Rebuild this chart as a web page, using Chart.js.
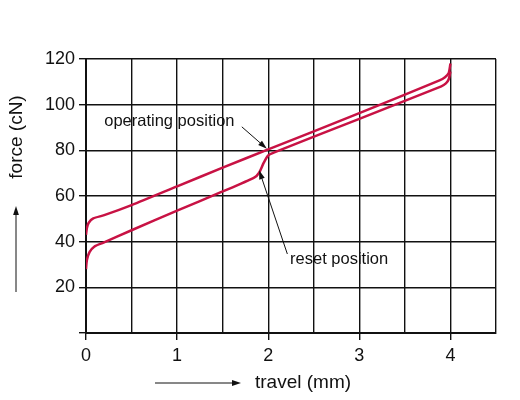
<!DOCTYPE html>
<html>
<head>
<meta charset="utf-8">
<script src="https://cdn.jsdelivr.net/npm/chart.js@4.4.1/dist/chart.umd.min.js"></script>
<style>
  html, body { margin: 0; padding: 0; background: #fff; }
</style>
</head>
<body>
<canvas id="force-chart" width="520" height="400"></canvas>
<script>
// travel (mm) / force (cN)
const operatingTravel = [0, 0.01, 0.03, 0.08, 0.2, 0.5, 1, 1.5, 2, 3, 3.88, 3.94, 3.98, 4];
const operatingForce  = [43, 46, 48.3, 50.2, 51.6, 56, 64.2, 72.4, 80.4, 96.3, 110.6, 112, 113.8, 118];
const resetTravel = [0, 0.01, 0.04, 0.09, 0.18, 0.5, 1, 1.5, 1.85, 1.9, 1.95, 2, 2.06, 3, 3.9, 3.95, 3.98, 4];
const resetForce  = [28, 32, 35.5, 37.8, 39.4, 45, 53.6, 62, 68.2, 70.2, 74.5, 77.8, 79, 93.8, 108, 109.3, 111, 114.5];
const xTickLabels = [0, 1, 2, 3, 4];
const yTickLabels = [20, 40, 60, 80, 100, 120];

const FONT = 'Liberation Sans, Arial, sans-serif';
const INK = '#111';
const CURVE = 'rgb(200, 18, 68)';

function toPoints(xs, ys) {
    return xs.map((x, i) => ({ x: x, y: ys[i] }));
}

// draws a line with a filled head at (x2, y2)
function arrow(ctx, x1, y1, x2, y2, head) {
    const a = Math.atan2(y2 - y1, x2 - x1);
    const w = head * 0.32;
    ctx.beginPath();
    ctx.moveTo(x1, y1);
    ctx.lineTo(x2 - Math.cos(a) * head * 0.6, y2 - Math.sin(a) * head * 0.6);
    ctx.stroke();
    ctx.beginPath();
    ctx.moveTo(x2, y2);
    ctx.lineTo(x2 - head * Math.cos(a) + w * Math.sin(a), y2 - head * Math.sin(a) - w * Math.cos(a));
    ctx.lineTo(x2 - head * Math.cos(a) - w * Math.sin(a), y2 - head * Math.sin(a) + w * Math.cos(a));
    ctx.closePath();
    ctx.fill();
}

// axis titles with their arrows, and the two callouts
const labelsPlugin = {
    id: 'labels',
    afterDatasetsDraw(chart) {
        const ctx = chart.ctx;
        const xs = chart.scales.x, ys = chart.scales.y;
        const px = v => xs.getPixelForValue(v);
        const py = v => ys.getPixelForValue(v);
        ctx.save();
        ctx.fillStyle = INK;
        ctx.strokeStyle = INK;
        ctx.lineWidth = 1;

        // callouts
        ctx.font = '16.5px ' + FONT;
        ctx.textBaseline = 'middle';
        ctx.textAlign = 'left';
        ctx.fillText('operating position', px(0.2), py(92.8));
        arrow(ctx, px(1.71), py(90.3), px(1.985), py(80.7), 9);
        ctx.fillText('reset position', px(2.24), py(32.3));
        arrow(ctx, px(2.21), py(34.6), px(1.9), py(71.3), 9);

        // x title
        ctx.font = '19px ' + FONT;
        ctx.fillText('travel (mm)', 255, 383);
        arrow(ctx, 155, 383, 241, 383, 9);

        // y title
        ctx.save();
        ctx.translate(17, 137);
        ctx.rotate(-Math.PI / 2);
        ctx.textAlign = 'center';
        ctx.fillText('force (cN)', 0, 0);
        ctx.restore();
        arrow(ctx, 16, 292, 16, 206, 9);

        ctx.restore();
    }
};

const ctx = document.getElementById('force-chart').getContext('2d');
new Chart(ctx, {
    type: 'line',
    data: {
        datasets: [{
            label: 'operating',
            data: toPoints(operatingTravel, operatingForce),
            borderColor: CURVE,
            borderWidth: 2.5,
            pointRadius: 0,
            tension: 0.25,
            fill: false
        }, {
            label: 'reset',
            data: toPoints(resetTravel, resetForce),
            borderColor: CURVE,
            borderWidth: 2.5,
            pointRadius: 0,
            tension: 0.25,
            fill: false
        }]
    },
    options: {
        responsive: false,
        animation: false,
        layout: { padding: { top: 59, right: 24, left: 0, bottom: 0 } },
        plugins: {
            legend: { display: false },
            tooltip: { enabled: false }
        },
        scales: {
            x: {
                type: 'linear',
                min: 0,
                max: 4.5,
                ticks: {
                    stepSize: 0.5,
                    autoSkip: false,
                    maxRotation: 0,
                    color: INK,
                    padding: 5,
                    font: { family: FONT, size: 18 },
                    callback: v => xTickLabels.includes(v) ? String(v) : ''
                },
                grid: {
                    color: INK,
                    lineWidth: 1.4,
                    tickLength: 7,
                    tickColor: c => (c.tick && xTickLabels.includes(c.tick.value)) ? INK : 'rgba(0,0,0,0)'
                },
                border: { color: INK, width: 2 },
                afterFit: s => { s.height = 67; }
            },
            y: {
                min: 0,
                max: 120,
                ticks: {
                    stepSize: 20,
                    color: INK,
                    padding: 4,
                    font: { family: FONT, size: 18 },
                    callback: v => yTickLabels.includes(v) ? String(v) : ''
                },
                grid: { color: INK, lineWidth: 1.4, tickLength: 7 },
                border: { color: INK, width: 2 },
                afterFit: s => { s.width = 86; }
            }
        }
    },
    plugins: [labelsPlugin]
});
</script>
</body>
</html>
